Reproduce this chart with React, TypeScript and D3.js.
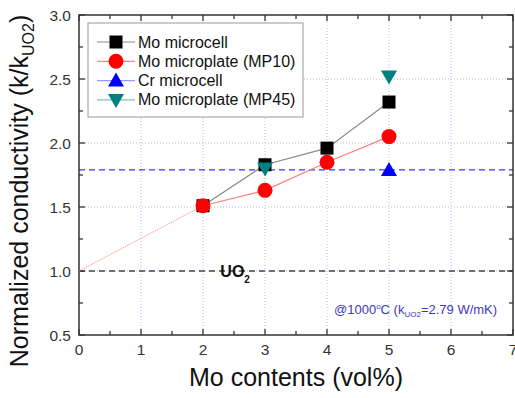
import React, { useEffect, useRef } from 'react';
import * as d3 from 'd3';

const contents = [2, 3, 4, 5];
const moMicrocell = [1.51, 1.83, 1.96, 2.32];
const moMP10 = [1.51, 1.63, 1.85, 2.05];
const crX = [5];
const crMicrocell = [1.79];
const mp45X = [3, 5];
const moMP45 = [1.80, 2.52];
const extrapX = [0, 2];
const extrapY = [1.0, 1.51];
const crLevel = 1.79;
const uo2Level = 1.0;
const xTicks = [0, 1, 2, 3, 4, 5, 6, 7];
const yTicks = [0.5, 1.0, 1.5, 2.0, 2.5, 3.0];

const legendItems = [
  { name: 'Mo microcell', shape: 'square', color: '#000', line: '#888' },
  { name: 'Mo microplate (MP10)', shape: 'circle', color: '#ff0000', line: '#ff8080' },
  { name: 'Cr microcell', shape: 'up', color: '#0000ff', line: '#9999ff' },
  { name: 'Mo microplate (MP45)', shape: 'down', color: '#008080', line: '#80c0c0' },
];

const App: React.FC = () => {
  const svgRef = useRef<SVGSVGElement>(null);

  useEffect(() => {
    if (!svgRef.current) return;
    const svg = d3.select(svgRef.current);
    svg.selectAll('*').remove();

    const x = d3.scaleLinear().domain([0, 7]).range([79, 513]);
    const y = d3.scaleLinear().domain([0.5, 3.0]).range([335, 15]);
    const font = 'Arial, "Liberation Sans", sans-serif';

    // grid
    const grid = svg.append('g');
    xTicks.slice(1, -1).forEach(t => {
      grid.append('line').attr('x1', x(t)).attr('x2', x(t)).attr('y1', y(0.5)).attr('y2', y(3))
        .attr('stroke', '#b8b8ff').attr('stroke-dasharray', '1,2').attr('stroke-width', 1);
    });
    yTicks.slice(1, -1).forEach(t => {
      grid.append('line').attr('x1', x(0)).attr('x2', x(7)).attr('y1', y(t)).attr('y2', y(t))
        .attr('stroke', '#b8b8ff').attr('stroke-dasharray', '1,2').attr('stroke-width', 1);
    });

    // reference lines
    svg.append('line').attr('x1', x(0)).attr('x2', x(7)).attr('y1', y(uo2Level)).attr('y2', y(uo2Level))
      .attr('stroke', '#444').attr('stroke-width', 1.3).attr('stroke-dasharray', '6,4');
    svg.append('line').attr('x1', x(0)).attr('x2', x(7)).attr('y1', y(crLevel)).attr('y2', y(crLevel))
      .attr('stroke', '#3333ff').attr('stroke-width', 1.3).attr('stroke-dasharray', '6,4');

    // frame and ticks
    svg.append('rect').attr('x', x(0)).attr('y', y(3)).attr('width', x(7) - x(0)).attr('height', y(0.5) - y(3))
      .attr('fill', 'none').attr('stroke', '#333').attr('stroke-width', 1.5);

    const ticks = svg.append('g').attr('stroke', '#333').attr('stroke-width', 1.3);
    d3.range(0, 7.01, 0.5).forEach(t => {
      const len = Number.isInteger(t) ? 6 : 4;
      ticks.append('line').attr('x1', x(t)).attr('x2', x(t)).attr('y1', y(0.5)).attr('y2', y(0.5) - len);
      ticks.append('line').attr('x1', x(t)).attr('x2', x(t)).attr('y1', y(3)).attr('y2', y(3) + len);
    });
    d3.range(0.5, 3.01, 0.25).forEach(t => {
      const len = Math.abs(t * 2 - Math.round(t * 2)) < 1e-6 ? 6 : 4;
      ticks.append('line').attr('x1', x(0)).attr('x2', x(0) + len).attr('y1', y(t)).attr('y2', y(t));
      ticks.append('line').attr('x1', x(7)).attr('x2', x(7) - len).attr('y1', y(t)).attr('y2', y(t));
    });

    xTicks.forEach(t => {
      svg.append('text').attr('x', x(t)).attr('y', y(0.5) + 20).attr('text-anchor', 'middle')
        .style('font-family', font).style('font-size', '15.5px').attr('fill', '#333').text(String(t));
    });
    yTicks.forEach(t => {
      svg.append('text').attr('x', x(0) - 8).attr('y', y(t) + 5.5).attr('text-anchor', 'end')
        .style('font-family', font).style('font-size', '15.5px').attr('fill', '#333').text(t.toFixed(1));
    });

    // axis titles
    svg.append('text').attr('x', x(3.5)).attr('y', 386).attr('text-anchor', 'middle')
      .style('font-family', font).style('font-size', '25px').attr('fill', '#111').text('Mo contents (vol%)');
    const yl = svg.append('text').attr('transform', `translate(28,191) rotate(-90)`).attr('text-anchor', 'middle')
      .style('font-family', font).style('font-size', '25px').attr('fill', '#111');
    yl.append('tspan').text('Normalized conductivity (k/k');
    yl.append('tspan').attr('dy', 6).style('font-size', '16px').text('UO2');
    yl.append('tspan').attr('dy', -6).text(')');

    // series lines
    const line = d3.line<[number, number]>().x(d => x(d[0])).y(d => y(d[1]));
    svg.append('path').attr('d', line(extrapX.map((v, i) => [v, extrapY[i]]) as [number, number][]))
      .attr('fill', 'none').attr('stroke', '#ff8080').attr('stroke-width', 1).attr('stroke-dasharray', '1,1');
    svg.append('path').attr('d', line(contents.map((v, i) => [v, moMicrocell[i]]) as [number, number][]))
      .attr('fill', 'none').attr('stroke', '#888').attr('stroke-width', 1.2);
    svg.append('path').attr('d', line(contents.map((v, i) => [v, moMP10[i]]) as [number, number][]))
      .attr('fill', 'none').attr('stroke', '#ff8080').attr('stroke-width', 1.2);

    const marker = (g: d3.Selection<SVGGElement, unknown, null, undefined>, shape: string, cx: number, cy: number, color: string) => {
      if (shape === 'square') {
        g.append('rect').attr('x', cx - 6.5).attr('y', cy - 6.5).attr('width', 13).attr('height', 13).attr('fill', color);
      } else if (shape === 'circle') {
        g.append('circle').attr('cx', cx).attr('cy', cy).attr('r', 7.5).attr('fill', color);
      } else if (shape === 'up') {
        g.append('path').attr('d', `M${cx},${cy - 8}L${cx + 8},${cy + 6}L${cx - 8},${cy + 6}Z`).attr('fill', color);
      } else {
        g.append('path').attr('d', `M${cx},${cy + 8}L${cx + 8},${cy - 6}L${cx - 8},${cy - 6}Z`).attr('fill', color);
      }
    };

    const marks = svg.append('g');
    contents.forEach((v, i) => marker(marks, 'square', x(v), y(moMicrocell[i]), '#000'));
    contents.forEach((v, i) => marker(marks, 'circle', x(v), y(moMP10[i]), '#ff0000'));
    crX.forEach((v, i) => marker(marks, 'up', x(v), y(crMicrocell[i]), '#0000ff'));
    mp45X.forEach((v, i) => marker(marks, 'down', x(v), y(moMP45[i]), '#008080'));

    // UO2 label
    const uo = svg.append('text').attr('x', x(2.28)).attr('y', y(uo2Level) + 6)
      .style('font-family', font).style('font-size', '16px').style('font-weight', 'bold').attr('fill', '#111');
    uo.append('tspan').text('UO');
    uo.append('tspan').attr('dy', 6).style('font-size', '10px').text('2');

    // annotation
    const an = svg.append('text').attr('x', 334).attr('y', 314)
      .style('font-family', font).style('font-size', '13px').attr('fill', '#3a3ac0');
    an.append('tspan').text('@1000');
    an.append('tspan').attr('dy', -5).style('font-size', '8px').text('o');
    an.append('tspan').attr('dy', 5).text('C (k');
    an.append('tspan').attr('dy', 3).style('font-size', '8px').text('UO2');
    an.append('tspan').attr('dy', -3).text('=2.79 W/mK)');

    // legend
    const lg = svg.append('g');
    lg.append('rect').attr('x', 88).attr('y', 23).attr('width', 215).attr('height', 94)
      .attr('fill', '#fff').attr('stroke', '#999').attr('stroke-width', 1);
    legendItems.forEach((it, i) => {
      const ly = 42 + i * 19.3;
      lg.append('line').attr('x1', 97).attr('x2', 135).attr('y1', ly).attr('y2', ly)
        .attr('stroke', it.line).attr('stroke-width', 1.2);
      marker(lg, it.shape, 116, ly, it.color);
      lg.append('text').attr('x', 138).attr('y', ly + 5.5)
        .style('font-family', font).style('font-size', '16px').attr('fill', '#111').text(it.name);
    });
  }, []);

  return (
    <svg ref={svgRef} width={515} height={398}
      style={{ position: 'absolute', left: 0, top: 0, background: '#fff' }} />
  );
};

export default App;
